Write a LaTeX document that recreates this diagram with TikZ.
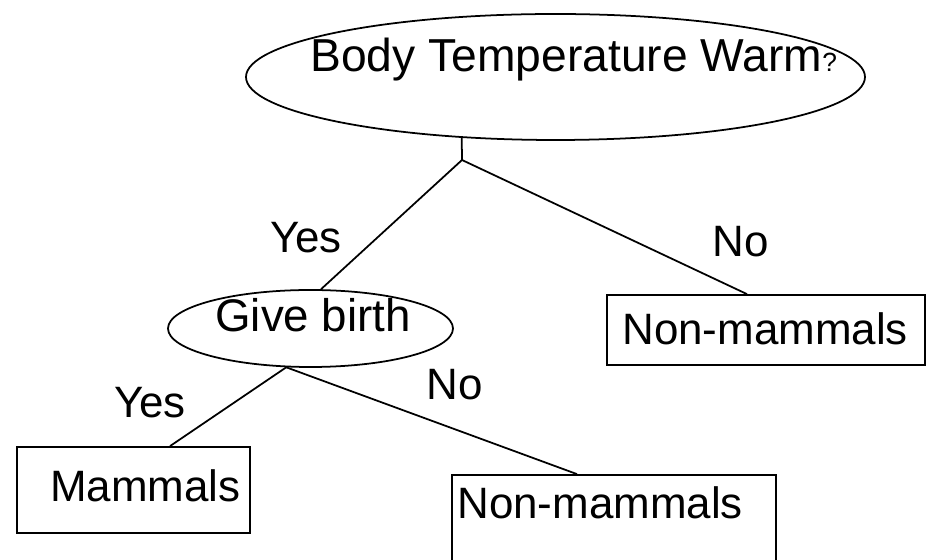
\documentclass[tikz,border=0pt]{standalone}
\usepackage{fontspec}
\setmainfont{Liberation Sans}
\usepackage{tikz}
\usetikzlibrary{shapes.geometric, positioning}

\tikzset{
	decision/.style={shape=ellipse, draw, line width=1pt, inner sep=0pt},
	leafbox/.style={shape=rectangle, draw, line width=1pt, inner sep=0pt},
	nodetext/.style={inner sep=0pt, anchor=base west, font=\fontsize{25}{30}\selectfont},
	edgetext/.style={inner sep=0pt, anchor=base, font=\fontsize{25}{30}\selectfont},
	branch/.style={line width=1pt}
}

\begin{document}
\begin{tikzpicture}
			\useasboundingbox (0, 0) rectangle (18.58, 11.2);
			% Shapes:
			\node[decision, minimum width=12.38cm, minimum height=2.52cm] (warm) at (11.11, 9.66){};
			\node[decision, minimum width=5.7cm, minimum height=1.54cm] (birth) at (6.21, 4.63){};
			\node[leafbox, minimum width=6.36cm, minimum height=1.4cm] (nonmamA) at (15.32, 4.6){};
			\node[leafbox, minimum width=4.66cm, minimum height=1.72cm] (mammals) at (2.67, 1.4){};
			\node[leafbox, minimum width=6.48cm, minimum height=2.1cm] (nonmamB) at (12.28, 0.65){};
			% Texts:
			\node[nodetext, font=\fontsize{26.3}{31}\selectfont] (warmtext) at (6.2, 9.76){Body Temperature Warm{\fontsize{15}{18}\selectfont ?}};
			\node[nodetext, font=\fontsize{26}{31}\selectfont] (birthtext) at (4.3, 4.56){Give birth};
			\node[nodetext] (nonmamAtext) at (12.44, 4.3){Non-mammals};
			\node[nodetext] (mammalstext) at (1.0, 1.16){Mammals};
			\node[nodetext] (nonmamBtext) at (9.14, 0.82){Non-mammals};
			% Branches:
			\coordinate (fork) at (9.24, 8.0);
			\draw[branch] (warm.213) -- (fork);
			\draw[branch] (fork) -- (birth.75);
			\draw[branch] (fork) -- ([xshift=-0.38cm]nonmamA.north);
			\draw[branch] (birth.238) -- ([xshift=0.73cm]mammals.north);
			\draw[branch] (birth.238) -- ([xshift=-0.74cm]nonmamB.north);
			\node[edgetext] (yesA) at (6.12, 6.14){Yes};
			\node[edgetext] (noA) at (14.82, 6.06){No};
			\node[edgetext] (yesB) at (3.0, 2.84){Yes};
			\node[edgetext] (noB) at (9.1, 3.2){No};
		\end{tikzpicture}
\end{document}
